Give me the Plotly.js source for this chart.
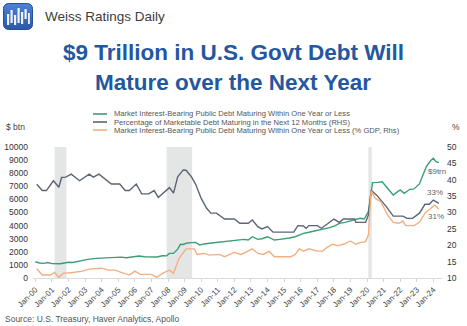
<!DOCTYPE html>
<html>
<head>
<meta charset="utf-8">
<script src="https://cdn.plot.ly/plotly-3.0.1.min.js"></script>
<style>
html,body{margin:0;padding:0;background:#fff;}
#wrap{position:relative;width:467px;height:326px;}
#chart{position:absolute;left:0;top:0;width:467px;height:326px;}
#logo{position:absolute;left:3px;top:3px;width:30px;height:27px;}
</style>
</head>
<body>
<div id="wrap">
<div id="chart"></div>
<svg id="logo" viewBox="0 0 30 27">
  <defs><linearGradient id="lg" x1="0" y1="0" x2="0" y2="1"><stop offset="0" stop-color="#4d82d6"/><stop offset="1" stop-color="#2a58a8"/></linearGradient></defs>
  <rect x="0.5" y="0.5" width="29" height="26" rx="5" ry="5" fill="url(#lg)" stroke="#2a4f94" stroke-width="1"/>
  <g fill="#ffffff" opacity="0.92">
    <rect x="4" y="11" width="2.2" height="11"/>
    <rect x="7.5" y="7" width="2.2" height="13"/>
    <rect x="11" y="12" width="2.2" height="10"/>
    <rect x="14.5" y="5" width="2.2" height="15"/>
    <rect x="18" y="9" width="2.2" height="12"/>
    <rect x="21.5" y="6" width="2.2" height="10"/>
    <rect x="25" y="10" width="1.8" height="11"/>
  </g>
</svg>
</div>
<script>
// ---- Data ----
var debtDates = ['2000-01','2000-04','2000-07','2000-10','2001-01','2001-04','2001-07','2001-10','2002-01','2002-04','2002-07','2002-11','2003-03','2003-09','2004-03','2004-09','2005-03','2005-07','2005-11','2006-04','2006-08','2007-01','2007-05','2007-09','2007-12','2008-02','2008-05','2008-08','2008-10','2008-12','2009-02','2009-06','2009-09','2009-12','2010-03','2010-07','2010-11','2011-04','2011-08','2011-11','2012-03','2012-08','2012-11','2013-02','2013-06','2013-09','2014-01','2014-06','2014-10','2015-01','2015-05','2015-09','2016-01','2016-03','2016-07','2017-02','2017-06','2017-10','2018-02','2018-05','2018-09','2018-12','2019-04','2019-08','2019-11','2019-12','2020-02','2020-04','2020-05','2020-09','2020-12','2021-03','2021-05','2021-08','2021-10','2022-01','2022-04','2022-06','2022-08','2022-11','2023-01','2023-03','2023-05','2023-08','2023-11','2024-01','2024-03','2024-05'];
var debtBn = [1240,1150,1120,1180,1100,1070,1090,1150,1200,1180,1250,1370,1420,1500,1540,1580,1590,1550,1600,1680,1620,1630,1600,1700,1690,1880,1880,2200,2570,2560,2650,2700,2720,2520,2600,2650,2700,2760,2780,2820,2870,2950,2900,3150,2950,3000,3150,2900,2950,2980,3050,3150,3330,3410,3490,3660,3700,3840,4000,4170,4250,4350,4450,4560,4500,4680,5060,6500,7280,7300,7350,6970,6700,6340,6500,6720,6460,6650,6770,6800,6970,7180,7730,8500,8950,9140,8880,8800];

var pctDates = ['2000-02','2000-06','2000-09','2001-02','2001-06','2001-08','2001-11','2002-03','2002-09','2003-04','2003-07','2003-11','2004-08','2005-02','2005-06','2005-09','2006-02','2006-06','2006-11','2007-03','2007-06','2007-11','2008-02','2008-05','2008-08','2008-12','2009-02','2009-06','2009-09','2010-01','2010-05','2010-08','2010-12','2011-06','2012-01','2012-05','2012-11','2013-02','2013-06','2013-09','2014-01','2014-05','2015-08','2015-11','2016-03','2016-05','2016-07','2017-01','2017-04','2017-08','2018-01','2018-05','2018-08','2019-04','2019-05','2019-12','2020-02','2020-04','2020-08','2021-03','2021-08','2022-03','2022-06','2022-10','2023-03','2023-07','2023-10','2024-01','2024-05'];
var pctMaturing = [38.6,36.7,36.7,39.7,37.7,40.7,40.8,41.7,39.7,41.7,40.8,41.7,38.7,38.7,36.7,36.7,38.7,35.7,35.7,36.7,34.6,36.4,37.6,35.9,40.9,43.0,42.9,40.9,38.6,34.3,31.3,29.8,29.8,28.0,28.0,26.7,26.7,27.7,25.7,25.0,25.7,24.0,24.0,26.0,25.9,25.2,26.0,26.0,25.2,26.4,28.0,27.0,28.0,28.0,27.0,27.0,29.2,36.8,35.3,31.8,28.9,28.9,28.2,28.2,29.8,32.5,32.5,33.8,32.8];

var gdpDates = ['2000-02','2000-06','2000-12','2001-03','2001-06','2001-09','2002-04','2002-11','2003-04','2004-01','2004-06','2004-11','2005-03','2005-09','2006-01','2006-05','2007-01','2007-05','2007-09','2008-02','2008-05','2008-09','2009-02','2009-08','2009-10','2010-03','2010-07','2011-02','2011-06','2012-01','2012-06','2013-02','2013-06','2013-10','2014-02','2014-06','2015-06','2015-09','2015-12','2016-03','2016-07','2017-01','2017-05','2017-08','2017-12','2018-04','2018-08','2019-01','2019-05','2019-08','2019-12','2020-02','2020-04','2020-07','2020-11','2021-04','2021-08','2021-12','2022-03','2022-05','2022-11','2023-03','2023-07','2024-02','2024-05'];
var pctGdp = [12.8,10.9,10.9,11.7,10.2,11.4,11.7,12.1,12.7,13.0,12.4,12.4,11.7,10.9,12.1,11.1,11.1,10.2,11.4,12.4,11.4,16.0,18.9,18.9,17.2,17.5,17.0,17.2,16.5,17.8,17.2,18.9,17.5,17.2,18.2,16.5,16.5,17.2,18.9,18.2,18.9,18.2,18.2,19.3,20.3,19.9,20.3,21.3,20.3,20.8,21.1,23.1,36.6,34.3,33.3,29.2,27.0,26.7,27.4,26.0,26.0,27.0,29.8,32.3,31.0];

var recessionStarts = ['2001-03-01','2007-12-01','2020-02-01'];
var recessionEnds   = ['2001-11-15','2009-06-15','2020-04-15'];

var seriesNames = [
  'Market Interest-Bearing Public Debt Maturing Within One Year or Less',
  'Percentage of Marketable Debt Maturing in the Next 12 Months (RHS)',
  'Market Interest-Bearing Public Debt Maturing Within One Year or Less (% GDP, Rhs)'
];
var seriesColors = ['#3a9e76','#5c6474','#f2b083'];

// ---- Layout helpers (pixel -> paper) ----
var W = 467, H = 326, ML = 33, MR = 25, MT = 147, MB = 48;
var PW = W - ML - MR, PH = H - MT - MB;
function px(x){ return (x - ML) / PW; }
function py(y){ return (H - MB - y) / PH; }

var font = 'Liberation Sans, Arial, Helvetica, sans-serif';

var traces = [
  {x: debtDates, y: debtBn, type:'scatter', mode:'lines', name: seriesNames[0], line:{color: seriesColors[0], width:1.4}, yaxis:'y'},
  {x: pctDates, y: pctMaturing, type:'scatter', mode:'lines', name: seriesNames[1], line:{color: seriesColors[1], width:1.4}, yaxis:'y2'},
  {x: gdpDates, y: pctGdp, type:'scatter', mode:'lines', name: seriesNames[2], line:{color: seriesColors[2], width:1.4}, yaxis:'y2'}
];

var shapes = [];
for (var i = 0; i < recessionStarts.length; i++) {
  shapes.push({type:'rect', xref:'x', yref:'paper', x0: recessionStarts[i], x1: recessionEnds[i], y0:0, y1:1, fillcolor:'#e4e5e5', line:{width:0}, layer:'below'});
}
var legendY = [114, 122, 130];
var annotations = [];
for (var k = 0; k < 3; k++) {
  shapes.push({type:'line', xref:'paper', yref:'paper', x0: px(93), x1: px(107), y0: py(legendY[k]), y1: py(legendY[k]), line:{color: seriesColors[k], width:1.6}});
  annotations.push({xref:'paper', yref:'paper', x: px(111.5), y: py(legendY[k]), xanchor:'left', yanchor:'middle', text: seriesNames[k], showarrow:false, font:{family: font, size:7.6, color:'#555'}});
}

annotations = annotations.concat([
  {xref:'paper', yref:'paper', x: px(43), y: py(16.5), xanchor:'left', yanchor:'middle', text:'Weiss Ratings Daily', showarrow:false, font:{family: font, size:13.5, color:'#3c3c3c'}},
  {xref:'paper', yref:'paper', x: px(233), y: py(53), xanchor:'center', yanchor:'middle', text:'<b>$9 Trillion in U.S. Govt Debt Will</b>', showarrow:false, font:{family: font, size:22.5, color:'#24579f'}},
  {xref:'paper', yref:'paper', x: px(233), y: py(82), xanchor:'center', yanchor:'middle', text:'<b>Mature over the Next Year</b>', showarrow:false, font:{family: font, size:22.5, color:'#24579f'}},
  {xref:'paper', yref:'paper', x: px(4), y: py(127), xanchor:'left', yanchor:'middle', text:'$ btn', showarrow:false, font:{family: font, size:8.5, color:'#444'}},
  {xref:'paper', yref:'paper', x: px(456), y: py(126.5), xanchor:'center', yanchor:'middle', text:'%', showarrow:false, font:{family: font, size:8.5, color:'#444'}},
  {xref:'paper', yref:'paper', x: px(3), y: py(319), xanchor:'left', yanchor:'middle', text:'Source: U.S. Treasury, Haver Analytics, Apollo', showarrow:false, font:{family: font, size:8.5, color:'#555'}},
  {xref:'x', yref:'y', x:'2024-03-15', y: 8150, xanchor:'center', yanchor:'middle', text:'$9trn', showarrow:false, font:{family: font, size:8, color:'#666'}},
  {xref:'x', yref:'y2', x:'2024-02-15', y: 36.1, xanchor:'center', yanchor:'middle', text:'33%', showarrow:false, font:{family: font, size:8, color:'#666'}},
  {xref:'x', yref:'y2', x:'2024-03-01', y: 28.7, xanchor:'center', yanchor:'middle', text:'31%', showarrow:false, font:{family: font, size:8, color:'#666'}}
]);

var layout = {
  width: W, height: H,
  margin: {l: ML, r: MR, t: MT, b: MB, pad: 0},
  paper_bgcolor:'#ffffff', plot_bgcolor:'#ffffff',
  showlegend: false,
  font: {family: font, size: 8, color:'#444'},
  xaxis: {
    type:'date', range:['1999-11-10','2024-07-10'],
    tick0:'2000-01-01', dtick:'M12', tickformat:'%b-%y', tickangle:-45,
    ticks:'outside', ticklen:3, tickcolor:'#d5d5d5', tickwidth:1,
    showline:true, linecolor:'#dcdcdc', linewidth:1,
    showgrid:false, zeroline:false,
    tickfont:{family: font, size:8, color:'#444'}
  },
  yaxis: {
    range:[0,10000], dtick:1000, tickformat:'d', showgrid:false, zeroline:false, showline:false, ticks:'',
    tickfont:{family: font, size:8.5, color:'#333'}, ticklabelstandoff: 4
  },
  yaxis2: {
    range:[10,50], dtick:5, overlaying:'y', side:'right', showgrid:false, zeroline:false, showline:false, ticks:'',
    tickfont:{family: font, size:8.5, color:'#333'}, ticklabelstandoff: 4
  },
  shapes: shapes,
  annotations: annotations
};

Plotly.newPlot('chart', traces, layout, {staticPlot:true, displayModeBar:false});
</script>
</body>
</html>
